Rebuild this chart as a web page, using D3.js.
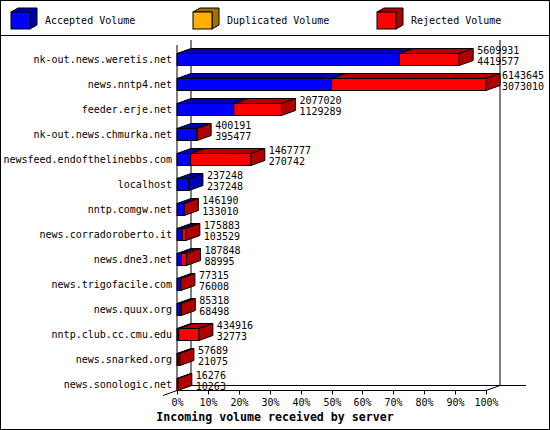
<!DOCTYPE html>
<html>
<head>
<meta charset="utf-8">
<script src="https://cdn.jsdelivr.net/npm/d3@7"></script>
<style>
  body { margin: 0; background: #fff; }
  svg text { font-family: "DejaVu Sans Mono", monospace; font-size: 10px; fill: #000; }
</style>
</head>
<body>
<svg id="chart" width="550" height="430"></svg>
<script>
// servers, top to bottom
let hosts = [
	"nk-out.news.weretis.net", "news.nntp4.net", "feeder.erje.net",
	"nk-out.news.chmurka.net", "newsfeed.endofthelinebbs.com", "localhost",
	"nntp.comgw.net", "news.corradoroberto.it", "news.dne3.net",
	"news.trigofacile.com", "news.quux.org", "nntp.club.cc.cmu.edu",
	"news.snarked.org", "news.sonologic.net"
];
let totalVolume = [5609931, 6143645, 2077020, 400191, 1467777, 237248, 146190,
	175883, 187848, 77315, 85318, 434916, 57689, 16276];
let acceptedVolume = [4419577, 3073010, 1129289, 395477, 270742, 237248, 133010,
	103529, 88995, 76008, 68498, 32773, 21075, 10263];
let duplicatedVolume = [0, 0, 0, 0, 0, 0, 0, 0, 0, 0, 0, 0, 0, 0];
let rejectedVolume = [1190354, 3070635, 947731, 4714, 1197035, 0, 13180,
	72354, 98853, 1307, 16820, 402143, 36614, 6013];
let tickLabels = ["0%", "10%", "20%", "30%", "40%", "50%", "60%", "70%", "80%", "90%", "100%"];

let seriesNames = ["Accepted Volume", "Duplicated Volume", "Rejected Volume"];
let frontColors = ["#0000ff", "#ffb000", "#ff0000"];
let darkColors = ["#0000b0", "#a07000", "#b00000"];

let svg = d3.select("#chart");
let depth = {x: 14, y: 5};
let barH = 12;
let maxTotal = d3.max(totalVolume);

let xscale = d3.scaleLinear().domain([0, 1]).range([177, 486]);
let yscale = d3.scalePoint().domain(hosts).range([59.5, 384.5]);

// frame and legend
svg.append("rect").attr("x", 0.5).attr("y", 0.5).attr("width", 549).attr("height", 429)
	.attr("fill", "none").attr("stroke", "#000");
svg.append("line").attr("x1", 0).attr("x2", 550).attr("y1", 35.5).attr("y2", 35.5)
	.attr("stroke", "#000");

let legendX = [11, 193, 377];
seriesNames.forEach(function(name, i) {
	let x = legendX[i], y = 12, w = 19, h = 17, dx = 7, dy = 4;
	let g = svg.append("g").attr("stroke", "#000").attr("stroke-width", 1);
	g.append("path").attr("fill", darkColors[i])
		.attr("d", `M${x},${y}L${x + dx},${y - dy}L${x + w + dx},${y - dy}L${x + w + dx},${y + h - dy}L${x + w},${y + h}L${x + w},${y}Z`);
	g.append("rect").attr("x", x).attr("y", y).attr("width", w).attr("height", h)
		.attr("fill", frontColors[i]);
	svg.append("text").attr("x", x + 34).attr("y", 20).attr("dy", "0.35em").text(name);
});

// 3d axis frame
let x0 = xscale(0), x1 = xscale(1);
let yFront = 390.5, yBack = yFront - depth.y;
let axisLines = [
	[x0 + depth.x, 40, x0 + depth.x, yBack],
	[x1 + depth.x, 40, x1 + depth.x, yBack],
	[x0 + depth.x, yBack, 526, yBack],
	[x0, 45, x0, yFront],
	[x0, yFront, x1, yFront],
	[x1, yFront, x1 + depth.x, yBack],
	[x0 - depth.x, yFront + depth.y, x0, yFront]
];
svg.append("g").selectAll("line").data(axisLines).enter().append("line")
	.attr("x1", d => d[0]).attr("y1", d => d[1]).attr("x2", d => d[2]).attr("y2", d => d[3])
	.attr("stroke", "#000");

// bottom ticks
let ticks = svg.append("g");
tickLabels.forEach(function(t, i) {
	let x = Math.round(xscale(i / 10)) + 0.5;
	ticks.append("line").attr("x1", x).attr("x2", x).attr("y1", yFront).attr("y2", yFront + 4)
		.attr("stroke", "#000");
	ticks.append("text").attr("x", x).attr("y", 402).attr("dy", "0.35em")
		.attr("text-anchor", "middle").text(t);
});

svg.append("text").attr("x", 275).attr("y", 417).attr("dy", "0.35em")
	.attr("text-anchor", "middle")
	.style("font-weight", "bold").style("font-size", "11.6px")
	.text("Incoming volume received by server");

// bars
let bars = svg.append("g").attr("stroke", "#000").attr("stroke-width", 1);
hosts.forEach(function(host, i) {
	let c = yscale(host);
	let top = c - barH / 2, bottom = c + barH / 2;
	let values = [acceptedVolume[i], duplicatedVolume[i], rejectedVolume[i]];
	let start = 0, last = -1, endX = x0;
	values.forEach(function(v, k) {
		if (v <= 0) return;
		let a = xscale(start / maxTotal), b = xscale((start + v) / maxTotal);
		bars.append("path").attr("fill", darkColors[k])
			.attr("d", `M${a},${top}L${a + depth.x},${top - depth.y}L${b + depth.x},${top - depth.y}L${b},${top}Z`);
		bars.append("rect").attr("x", a).attr("y", top).attr("width", b - a).attr("height", barH)
			.attr("fill", frontColors[k]);
		start += v;
		last = k;
		endX = b;
	});
	if (last >= 0) {
		bars.append("path").attr("fill", darkColors[last])
			.attr("d", `M${endX},${top}L${endX + depth.x},${top - depth.y}L${endX + depth.x},${bottom - depth.y}L${endX},${bottom}Z`);
	}

	svg.append("text").attr("x", 172).attr("y", c).attr("dy", "0.35em")
		.attr("text-anchor", "end").text(host);

	let lx = Math.min(endX + depth.x + 4, 502);
	svg.append("text").attr("x", lx).attr("y", c - 9).attr("dy", "0.35em").text(totalVolume[i]);
	svg.append("text").attr("x", lx).attr("y", c + 2).attr("dy", "0.35em").text(acceptedVolume[i]);
});
</script>
</body>
</html>
